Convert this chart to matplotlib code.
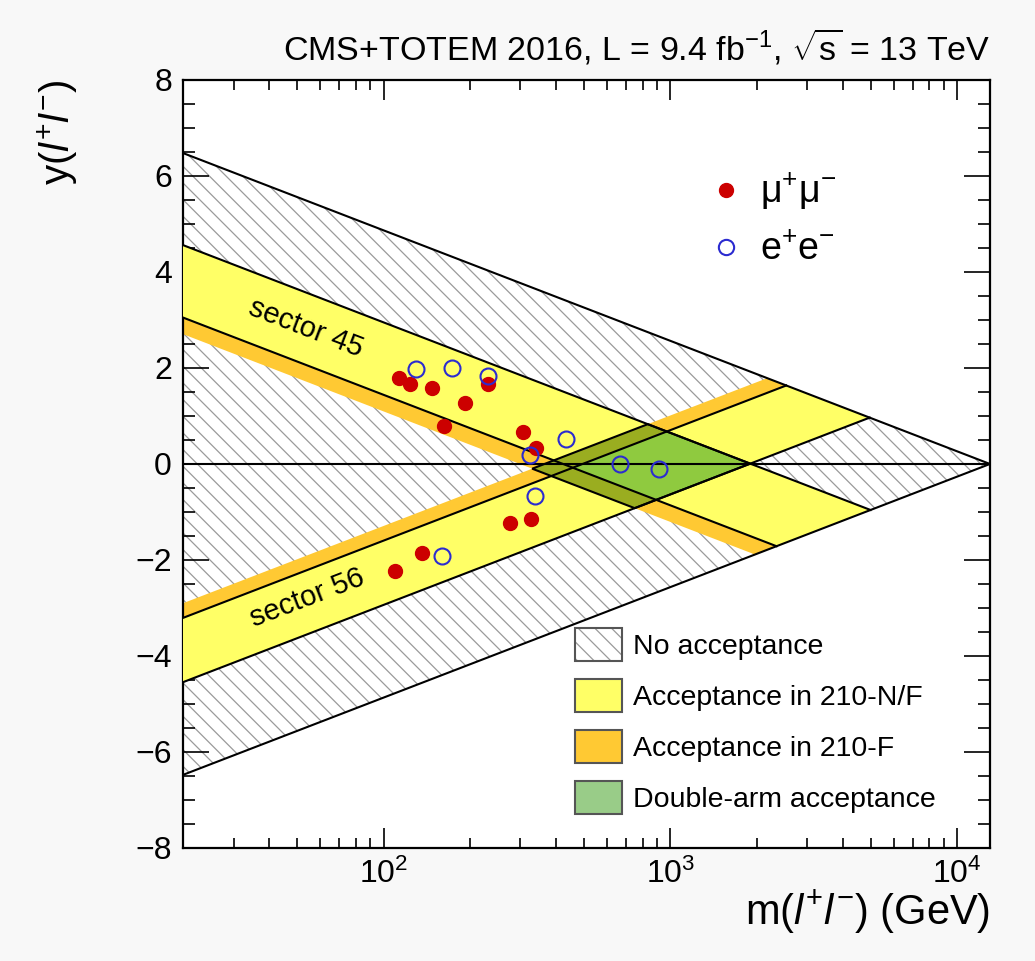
import numpy as np
import matplotlib.pyplot as plt
from matplotlib.patches import Patch
from matplotlib.lines import Line2D
from matplotlib.ticker import LogLocator, MultipleLocator, NullFormatter

plt.rcParams['font.family'] = ['Liberation Sans', 'DejaVu Sans']
plt.rcParams['mathtext.fontset'] = 'custom'
plt.rcParams['mathtext.rm'] = 'Liberation Sans'
plt.rcParams['mathtext.it'] = 'Liberation Sans:italic'
plt.rcParams['hatch.linewidth'] = 0.9

# kinematics
sqrt_s = 13000.0   # GeV
m_lo = 20.0        # left edge of the plot
# proton xi acceptance per arm: [210-F low edge, 210-N/F low edge, upper edge]
xi_45 = [0.023, 0.0325, 0.147]
xi_56 = [0.028, 0.038, 0.145]

# selected events
mumu_m = [113, 123.5, 148, 193, 231, 162, 306, 341, 277, 327, 136, 109.5]
mumu_y = [1.79, 1.67, 1.58, 1.28, 1.67, 0.80, 0.66, 0.33, -1.24, -1.15, -1.86, -2.22]
ee_m = [130, 173.5, 231, 434, 325, 336, 160, 665, 913]
ee_y = [1.98, 1.99, 1.84, 0.53, 0.19, -0.67, -1.91, 0.0, -0.11]

c_yellow = '#ffff66'
c_orange = '#ffc933'
c_green = '#8fca3f'
c_olive = '#9aad20'


def xi_line(xi, sign):
    # y = sign * ln(xi*sqrt_s/m), from m_lo to the kinematic limit
    m = np.array([m_lo, sqrt_s * np.sqrt(xi)])
    y = sign * np.log(xi * sqrt_s / m)
    return m, y


def band(lo, hi, sign):
    m1, y1 = xi_line(hi, sign)
    m2, y2 = xi_line(lo, sign)
    return np.r_[m1, m2[::-1]], np.r_[y1, y2[::-1]]


def diamond(a1, b1, a2, b2):
    corners = [(a1, a2), (b1, a2), (b1, b2), (a1, b2)]
    m = [sqrt_s * np.sqrt(p * q) for p, q in corners]
    y = [0.5 * np.log(p / q) for p, q in corners]
    return m, y


fig = plt.figure(figsize=(10.35, 9.61), dpi=100, facecolor='#f8f8f8')
ax = fig.add_axes([0.1768, 0.1176, 0.7797, 0.7992])
ax.set_xscale('log')

# no acceptance (kinematically allowed triangle, hatched)
y_edge = np.log(sqrt_s / m_lo)
tri_m = [m_lo, sqrt_s, m_lo]
tri_y = [y_edge, 0, -y_edge]
ax.fill(tri_m, tri_y, facecolor='none', edgecolor='#9a9a9a', hatch='\\\\', lw=0, zorder=1)

# single arm bands
for xi, sign in [(xi_45, 1), (xi_56, -1)]:
    bm, by = band(xi[0], xi[2], sign)
    ax.fill(bm, by, color=c_orange, lw=0, zorder=2)
for xi, sign in [(xi_45, 1), (xi_56, -1)]:
    bm, by = band(xi[1], xi[2], sign)
    ax.fill(bm, by, color=c_yellow, lw=0, zorder=3)

# double arm
dm, dy = diamond(xi_45[0], xi_45[2], xi_56[0], xi_56[2])
ax.fill(dm, dy, color=c_olive, lw=0, zorder=4)
dm, dy = diamond(xi_45[1], xi_45[2], xi_56[1], xi_56[2])
ax.fill(dm, dy, color=c_green, lw=0, zorder=5)
dm, dy = diamond(xi_45[0], xi_45[2], xi_56[0], xi_56[2])
ax.fill(dm, dy, facecolor='none', edgecolor='black', lw=1.5, zorder=6)

for xi, sign in [(xi_45, 1), (xi_56, -1)]:
    for v in xi[1:]:
        lm, ly = xi_line(v, sign)
        ax.plot(lm, ly, color='black', lw=1.5, zorder=6)

ax.plot(tri_m, tri_y, color='black', lw=1.5, zorder=6)
ax.axhline(0, color='black', lw=1.5, zorder=6)

ax.plot(mumu_m, mumu_y, 'o', color='#cc0000', ms=10, mec='#cc0000', zorder=8)
ax.plot(ee_m, ee_y, 'o', mfc='none', mec='#2b2bd0', ms=11.5, mew=1.5, zorder=9)

ax.text(53.5, 2.83, 'sector 45', rotation=-21, rotation_mode='anchor',
        ha='center', va='center', fontsize=21, zorder=10)
ax.text(54, -2.79, 'sector 56', rotation=21, rotation_mode='anchor',
        ha='center', va='center', fontsize=21, zorder=10)

ax.set_xlim(m_lo, sqrt_s)
ax.set_ylim(-8, 8)
ax.xaxis.set_major_locator(LogLocator(base=10, numticks=10))
ax.xaxis.set_minor_locator(LogLocator(base=10, subs=np.arange(2, 10), numticks=20))
ax.xaxis.set_minor_formatter(NullFormatter())
ax.yaxis.set_major_locator(MultipleLocator(2))
ax.yaxis.set_minor_locator(MultipleLocator(0.5))
ax.tick_params(which='both', direction='in', top=True, right=True, width=1.2,
               labelsize=23, pad=8)
ax.tick_params(axis='x', which='major', length=14.4)
ax.tick_params(axis='x', which='minor', length=7.2)
ax.tick_params(axis='y', which='major', length=18.7)
ax.tick_params(axis='y', which='minor', length=8.6)
for sp in ax.spines.values():
    sp.set_linewidth(1.6)

ax.text(1.0, -0.083, r'm($\it{l}^{+}\it{l}^{-}$) (GeV)', transform=ax.transAxes,
        ha='right', va='center', fontsize=30)
ax.text(-0.155, 1.0, r'y($\it{l}^{+}\it{l}^{-}$)', transform=ax.transAxes,
        rotation=90, ha='center', va='top', fontsize=29)
ax.text(1.0, 1.042, r'CMS+TOTEM 2016, L = 9.4 fb$^{-1}$, $\sqrt{\mathrm{s}}$ = 13 TeV',
        transform=ax.transAxes, ha='right', va='center', fontsize=24.5)

# legends
h_ev = [Line2D([], [], ls='none', marker='o', color='#cc0000', ms=10),
        Line2D([], [], ls='none', marker='o', mfc='none', mec='#2b2bd0', ms=11, mew=1.5)]
leg1 = ax.legend(h_ev, ['μ$^{+}$μ$^{-}$', 'e$^{+}$e$^{-}$'], loc='upper left',
                 bbox_to_anchor=(0.65, 0.882), frameon=False, fontsize=27,
                 handlelength=1.0, handletextpad=0.4, labelspacing=0.55, borderpad=0,
                 borderaxespad=0)
ax.add_artist(leg1)

h_acc = [(Patch(facecolor='white', edgecolor='#9a9a9a', hatch='\\\\', lw=0),
          Patch(facecolor='none', edgecolor='#555555', lw=1.5)),
         Patch(facecolor=c_yellow, edgecolor='#555555', lw=1.5),
         Patch(facecolor=c_orange, edgecolor='#555555', lw=1.5),
         Patch(facecolor='#99cc88', edgecolor='#555555', lw=1.5)]
ax.legend(h_acc, ['No acceptance', 'Acceptance in 210-N/F', 'Acceptance in 210-F',
                  'Double-arm acceptance'],
          loc='upper left', bbox_to_anchor=(0.486, 0.286), frameon=False, fontsize=20.5,
          handlelength=1.65, handleheight=1.4, handletextpad=0.39, labelspacing=0.63,
          borderpad=0, borderaxespad=0)

fig.savefig('out.png', dpi=100, facecolor=fig.get_facecolor())
